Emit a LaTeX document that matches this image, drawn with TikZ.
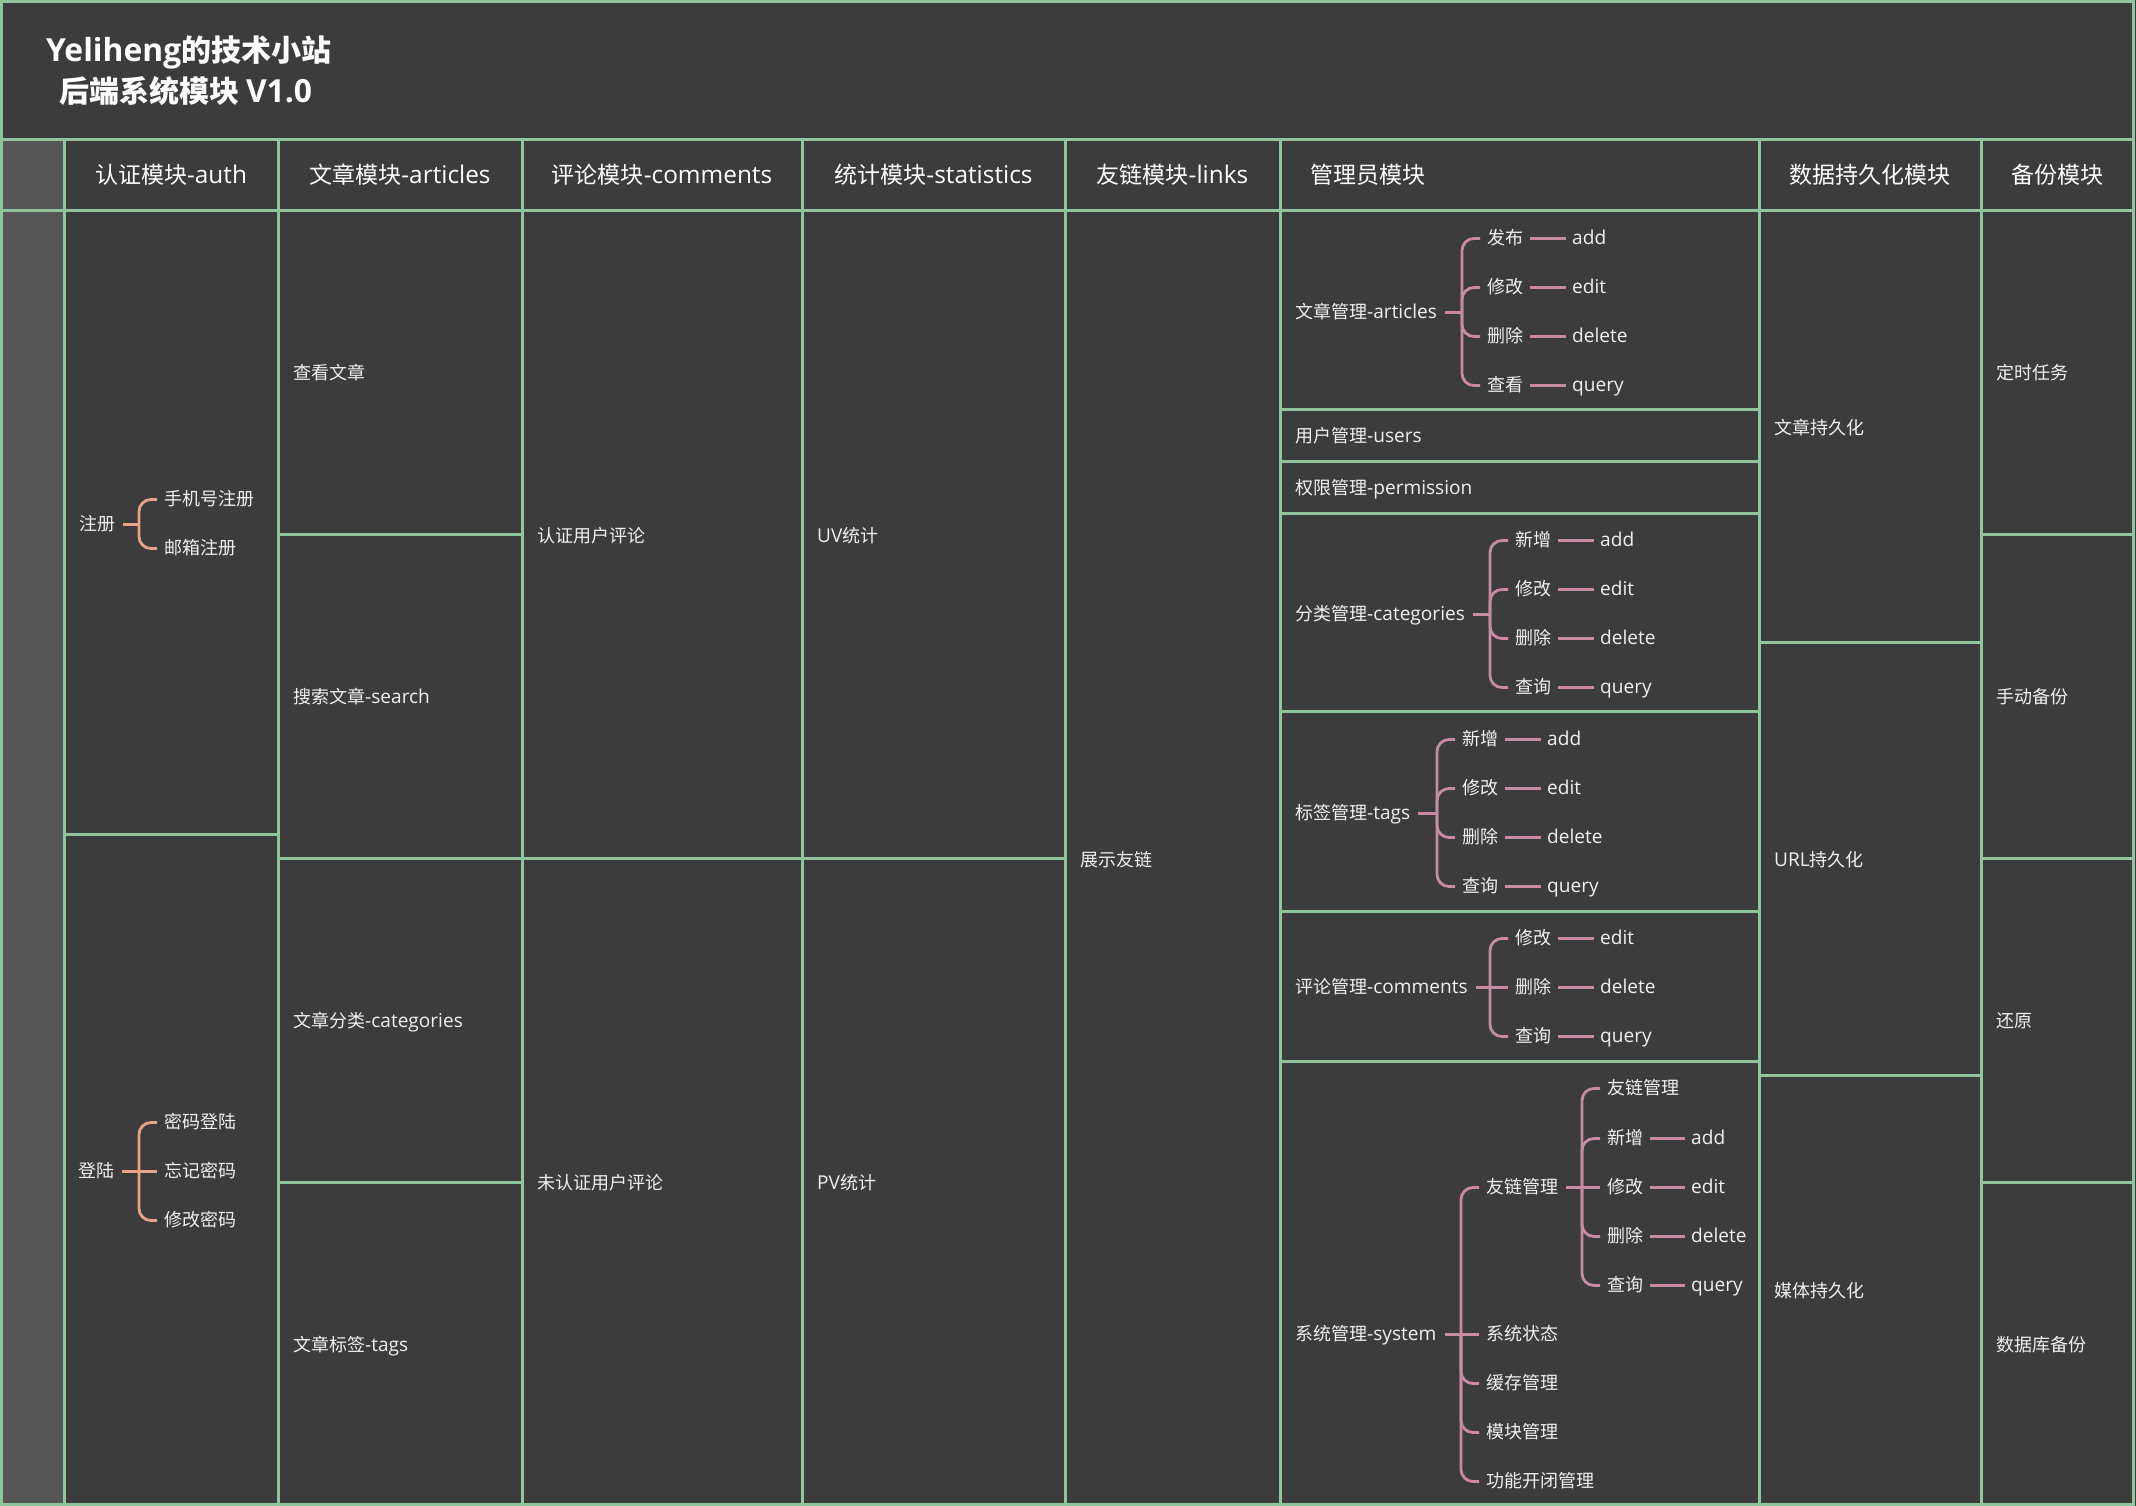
\documentclass[tikz,border=0pt]{standalone}
\usepackage{fontspec}
\setmainfont{Noto Sans CJK SC}
\newfontfamily\lt{Open Sans}[Scale=1.06]
\usetikzlibrary{calc}
\definecolor{bgc}{HTML}{3C3C3C}
\definecolor{stripc}{HTML}{565656}
\definecolor{gridc}{HTML}{8EC59C}
\definecolor{txtc}{HTML}{F0F0F0}
\definecolor{authc}{HTML}{E6A385}
\definecolor{admc}{HTML}{C98BA1}
\newcommand\tstub[3]{\draw[#1] ([xshift=8pt]#2.east) -- (#3 |- #2.east);}
\newcommand\tkid[4]{\draw[#1] (#3 |- #2.east) |- ([xshift=-7pt]#4.west);}
\newcommand\tflat[4]{\draw[#1] (#3 |- #2.east) -- ([xshift=-7pt]#4.west);}
\newcommand\tleaf[3]{\draw[#1] ([xshift=7pt]#2.east) -- ([xshift=-6pt]#3.west);}
\begin{document}
\begin{tikzpicture}[x=1pt,y=-1pt,
 gl/.style={draw=gridc,line width=3pt},
 hd/.style={text=white,font=\fontsize{23}{27}\selectfont,inner sep=0pt,text height=16pt,text depth=1pt},
 lb/.style={text=txtc,font=\fontsize{18}{22}\selectfont,inner sep=0pt,text height=13pt,text depth=1pt,anchor=west},
 ttl/.style={text=white,font=\fontsize{30}{35}\selectfont\bfseries,inner sep=0pt,text height=22pt,text depth=1pt,anchor=west},
 ba/.style={draw=authc,line width=2.8pt,rounded corners=12pt},
 bm/.style={draw=admc,line width=2.8pt,rounded corners=12pt}]
\useasboundingbox (0,0) rectangle (2136,1506);
\fill[bgc] (0,0) rectangle (2136,1506);
\fill[stripc] (0,140) rectangle (64,1506);
% grid
\draw[gl] (0,140) -- (2133,140) (0,211) -- (2133,211);
\foreach \x in {64,278,522,802,1065,1280,1759,1981} \draw[gl] (\x,140) -- (\x,1506);
\draw[gl] (64,834) -- (278,834);
\foreach \y in {534,858,1182} \draw[gl] (278,\y) -- (522,\y);
\draw[gl] (522,858) -- (1065,858);
\foreach \y in {409,461,513,711,911,1061} \draw[gl] (1280,\y) -- (1759,\y);
\foreach \y in {642,1075} \draw[gl] (1759,\y) -- (1981,\y);
\foreach \y in {534,858,1182} \draw[gl] (1981,\y) -- (2133,\y);
\draw[gl] (1.5,1.5) rectangle (2133,1504.5);
\begin{scope}[yshift=-1.5pt]
% title
\node[ttl] (t1) at (46,50) {{\lt Yeliheng}的技术小站};
\node[ttl] (t2) at (59,91) {后端系统模块 {\lt V1.0}};
% headers
\node[hd] (h1) at (171,175) {认证模块{\lt -auth}};
\node[hd] (h2) at (400,175) {文章模块{\lt -articles}};
\node[hd] (h3) at (662,175) {评论模块{\lt -comments}};
\node[hd] (h4) at (933.5,175) {统计模块{\lt -statistics}};
\node[hd] (h5) at (1172.5,175) {友链模块{\lt -links}};
\node[hd,anchor=west] (h6) at (1310,175) {管理员模块};
\node[hd] (h7) at (1870,175) {数据持久化模块};
\node[hd] (h8) at (2057,175) {备份模块};
% simple cells
\node[lb] (b1) at (293,372) {查看文章};
\node[lb] (b2) at (293,696) {搜索文章{\lt -search}};
\node[lb] (b3) at (293,1020) {文章分类{\lt -categories}};
\node[lb] (b4) at (293,1344) {文章标签{\lt -tags}};
\node[lb] (c1) at (537,534.5) {认证用户评论};
\node[lb] (c2) at (537,1182) {未认证用户评论};
\node[lb] (s1) at (817,534.5) {{\lt UV}统计};
\node[lb] (s2) at (817,1182) {{\lt PV}统计};
\node[lb] (l1) at (1080,858.5) {展示友链};
\node[lb] (p1) at (1774,426.5) {文章持久化};
\node[lb] (p2) at (1774,858.5) {{\lt URL}持久化};
\node[lb] (p3) at (1774,1290) {媒体持久化};
\node[lb] (k1) at (1996,372) {定时任务};
\node[lb] (k2) at (1996,696) {手动备份};
\node[lb] (k3) at (1996,1020) {还原};
\node[lb] (k4) at (1996,1344) {数据库备份};
% auth trees
\node[lb] (zc) at (79,523) {注册};
\node[lb] (zc1) at (164,498) {手机号注册};
\node[lb] (zc2) at (164,547) {邮箱注册};
\coordinate (vzc) at ($(zc1.west)+(-25,0)$);
\tstub{ba}{zc}{vzc}
\tkid{ba}{zc}{vzc}{zc1}
\tkid{ba}{zc}{vzc}{zc2}
\node[lb] (dl) at (78,1170) {登陆};
\node[lb] (dl1) at (164,1121) {密码登陆};
\node[lb] (dl2) at (164,1170) {忘记密码};
\node[lb] (dl3) at (164,1219) {修改密码};
\coordinate (vdl) at ($(dl1.west)+(-25,0)$);
\tstub{ba}{dl}{vdl}
\tkid{ba}{dl}{vdl}{dl1}
\tflat{ba}{dl}{vdl}{dl2}
\tkid{ba}{dl}{vdl}{dl3}
% admin: articles
\node[lb] (am1) at (1295,311) {文章管理{\lt -articles}};
\foreach \n/\y/\kw/\lw in {1/237/发布/add,2/286/修改/edit,3/335/删除/delete,4/384/查看/query}{
  \node[lb] (a1k\n) at (1487,\y) {\kw};
  \node[lb] (a1l\n) at (1572,\y) {\lt\lw};}
\coordinate (va1) at ($(a1k1.west)+(-25,0)$);
\tstub{bm}{am1}{va1}
\foreach \n in {1,...,4}{\tkid{bm}{am1}{va1}{a1k\n}\tleaf{bm}{a1k\n}{a1l\n}}
\node[lb] (am2) at (1295,435) {用户管理{\lt -users}};
\node[lb] (am3) at (1295,487) {权限管理{\lt -permission}};
% categories
\node[lb] (am4) at (1295,613) {分类管理{\lt -categories}};
\foreach \n/\y/\kw/\lw in {1/539/新增/add,2/588/修改/edit,3/637/删除/delete,4/686/查询/query}{
  \node[lb] (a4k\n) at (1515,\y) {\kw};
  \node[lb] (a4l\n) at (1600,\y) {\lt\lw};}
\coordinate (va4) at ($(a4k1.west)+(-25,0)$);
\tstub{bm}{am4}{va4}
\foreach \n in {1,...,4}{\tkid{bm}{am4}{va4}{a4k\n}\tleaf{bm}{a4k\n}{a4l\n}}
% tags
\node[lb] (am5) at (1295,812) {标签管理{\lt -tags}};
\foreach \n/\y/\kw/\lw in {1/738/新增/add,2/787/修改/edit,3/836/删除/delete,4/885/查询/query}{
  \node[lb] (a5k\n) at (1462,\y) {\kw};
  \node[lb] (a5l\n) at (1547,\y) {\lt\lw};}
\coordinate (va5) at ($(a5k1.west)+(-25,0)$);
\tstub{bm}{am5}{va5}
\foreach \n in {1,...,4}{\tkid{bm}{am5}{va5}{a5k\n}\tleaf{bm}{a5k\n}{a5l\n}}
% comments
\node[lb] (am6) at (1295,986) {评论管理{\lt -comments}};
\foreach \n/\y/\kw/\lw in {1/937/修改/edit,2/986/删除/delete,3/1035/查询/query}{
  \node[lb] (a6k\n) at (1515,\y) {\kw};
  \node[lb] (a6l\n) at (1600,\y) {\lt\lw};}
\coordinate (va6) at ($(a6k1.west)+(-25,0)$);
\tstub{bm}{am6}{va6}
\tkid{bm}{am6}{va6}{a6k1}
\tflat{bm}{am6}{va6}{a6k2}
\tkid{bm}{am6}{va6}{a6k3}
\foreach \n in {1,2,3}{\tleaf{bm}{a6k\n}{a6l\n}}
% system
\node[lb] (am7) at (1295,1333) {系统管理{\lt -system}};
\node[lb] (a7k1) at (1486,1186) {友链管理};
\node[lb] (a7k2) at (1486,1333) {系统状态};
\node[lb] (a7k3) at (1486,1382) {缓存管理};
\node[lb] (a7k4) at (1486,1431) {模块管理};
\node[lb] (a7k5) at (1486,1480) {功能开闭管理};
\coordinate (va7) at ($(a7k1.west)+(-25,0)$);
\tstub{bm}{am7}{va7}
\tkid{bm}{am7}{va7}{a7k1}
\tflat{bm}{am7}{va7}{a7k2}
\tkid{bm}{am7}{va7}{a7k3}
\tkid{bm}{am7}{va7}{a7k4}
\tkid{bm}{am7}{va7}{a7k5}
\node[lb] (f0) at (1607,1087) {友链管理};
\foreach \n/\y/\kw/\lw in {1/1137/新增/add,2/1186/修改/edit,3/1235/删除/delete,4/1284/查询/query}{
  \node[lb] (fk\n) at (1607,\y) {\kw};
  \node[lb] (fl\n) at (1691,\y) {\lt\lw};}
\coordinate (vf) at ($(f0.west)+(-25,0)$);
\tstub{bm}{a7k1}{vf}
\tkid{bm}{a7k1}{vf}{f0}
\tkid{bm}{a7k1}{vf}{fk1}
\tflat{bm}{a7k1}{vf}{fk2}
\tkid{bm}{a7k1}{vf}{fk3}
\tkid{bm}{a7k1}{vf}{fk4}
\foreach \n in {1,...,4}{\tleaf{bm}{fk\n}{fl\n}}
\end{scope}
\end{tikzpicture}
\end{document}
